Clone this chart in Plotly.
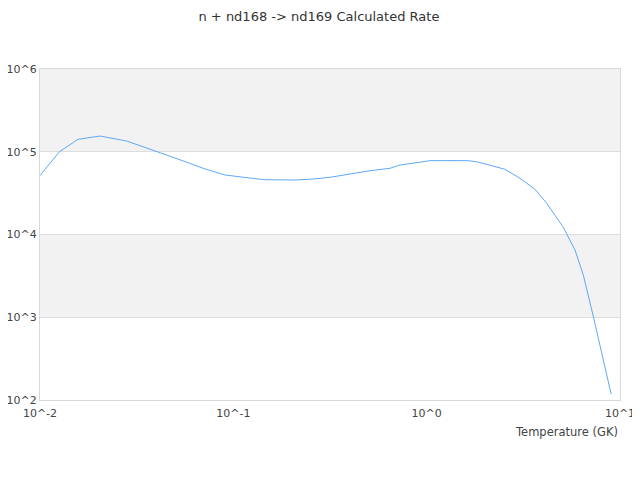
import plotly.graph_objects as go

# Temperature (GK) and rate values
temperature = [0.01, 0.0126, 0.0157, 0.0204, 0.028, 0.0362, 0.0459, 0.0517,
               0.0714, 0.0905, 0.1245, 0.1458, 0.2085, 0.249, 0.316, 0.401,
               0.509, 0.646, 0.728, 0.888, 1.04, 1.27, 1.64, 1.84, 2.54,
               3.04, 3.63, 4.18, 5.09, 5.85, 6.46, 7.28, 9.0]
rate = [5.16e4, 1.00e5, 1.41e5, 1.55e5, 1.35e5, 1.10e5, 9.15e4, 8.17e4,
        6.19e4, 5.24e4, 4.78e4, 4.59e4, 4.56e4, 4.65e4, 4.91e4, 5.38e4,
        5.90e4, 6.31e4, 6.92e4, 7.38e4, 7.80e4, 7.82e4, 7.80e4, 7.52e4, 6.14e4,
        4.78e4, 3.52e4, 2.38e4, 1.22e4, 6.5e3, 3.24e3, 1.02e3, 118]

x_tickvals = [0.01, 0.1, 1, 10]
x_ticktext = ["10^-2", "10^-1", "10^0", "10^1"]
y_tickvals = [1e2, 1e3, 1e4, 1e5, 1e6]
y_ticktext = ["10^2", "10^3", "10^4", "10^5", "10^6"]

fig = go.Figure()
fig.add_trace(go.Scatter(
    x=temperature, y=rate, mode="lines",
    line=dict(color="#5ea8f7", width=1),
    showlegend=False,
))

# alternating grey bands (10^3-10^4 and 10^5-10^6)
for y0, y1 in [(0.25, 0.5), (0.75, 1.0)]:
    fig.add_shape(type="rect", xref="paper", yref="paper",
                  x0=0, x1=1, y0=y0, y1=y1,
                  fillcolor="#f2f2f2", line=dict(width=0), layer="below")

fig.add_annotation(text="Temperature (GK)", xref="paper", yref="paper",
                   x=1, y=0, xanchor="right", yanchor="top", yshift=-23,
                   showarrow=False, font=dict(size=11.5, color="#444444"))

# page body adds an 8px margin, so the figure is a bit smaller than the window
fig.update_layout(
    title=dict(text="n + nd168 -> nd169 Calculated Rate", x=0.492, xanchor="center",
               y=0.992, yanchor="top", font=dict(size=13, color="#333333")),
    width=632, height=472,
    margin=dict(l=32, r=20, t=61, b=80),
    paper_bgcolor="white", plot_bgcolor="white",
    font=dict(family="DejaVu Sans", size=11, color="#444444"),
)
fig.update_xaxes(type="log", range=[-2, 1], tickvals=x_tickvals, ticktext=x_ticktext,
                 showgrid=False, showline=True, linecolor="#d9d9d9", mirror=True,
                 zeroline=False, ticks="", automargin=False, ticklabelstandoff=3)
fig.update_yaxes(type="log", range=[2, 6], tickvals=y_tickvals, ticktext=y_ticktext,
                 showgrid=True, gridcolor="#dddddd", showline=True, linecolor="#d9d9d9",
                 mirror=True, zeroline=False, ticks="", automargin=False)

fig.write_html("out.html")
